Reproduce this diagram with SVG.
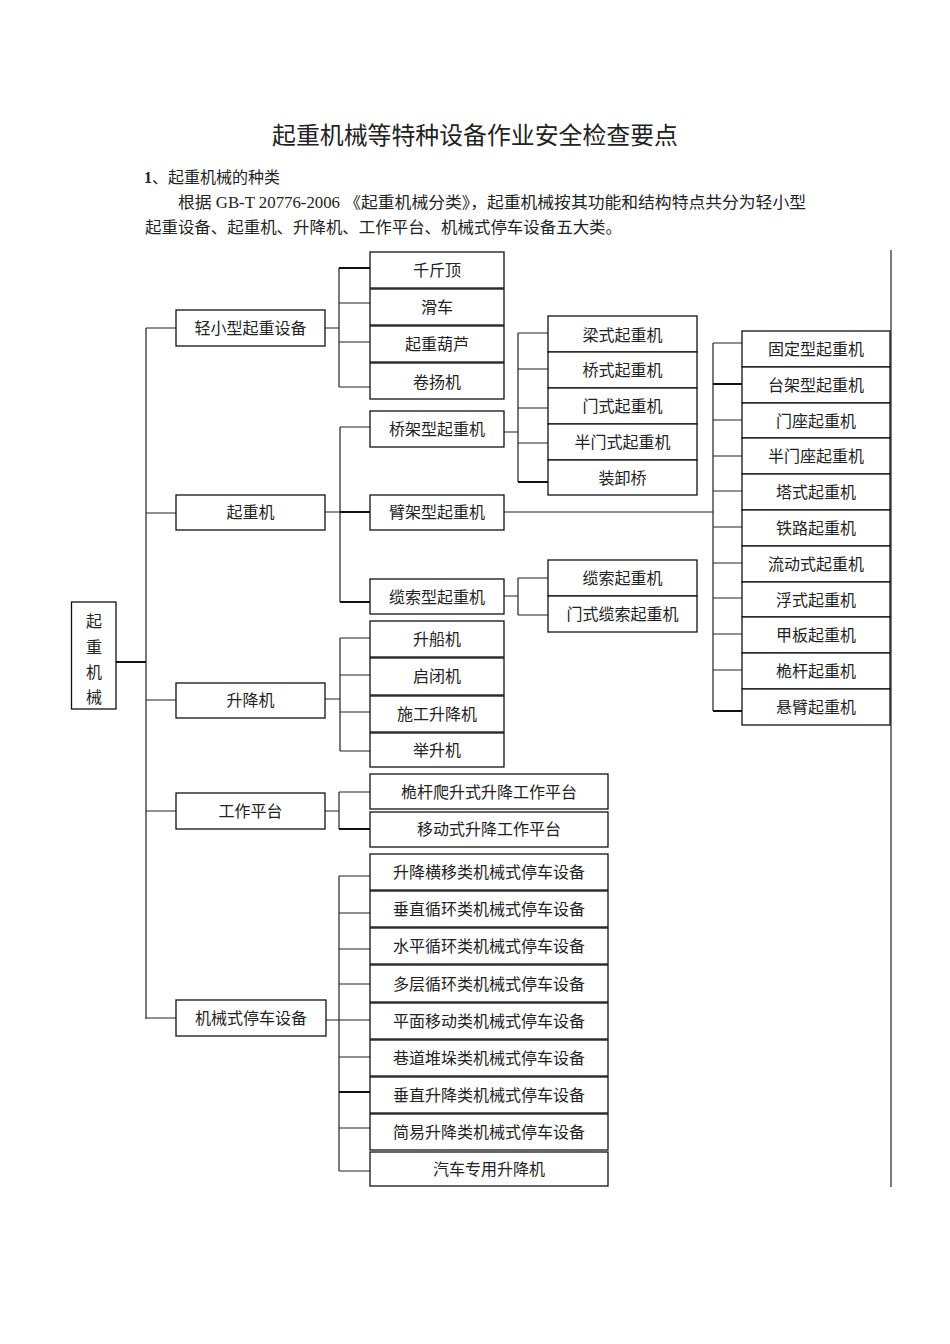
<svg xmlns="http://www.w3.org/2000/svg" width="950" height="1344" viewBox="0 0 950 1344">
<style>
.bx{fill:#fff;stroke:#111;stroke-width:1.3}
.ln{fill:none;stroke:#222;stroke-width:1.2}
.tk{fill:none;stroke:#111;stroke-width:2}
.t{font-family:"Liberation Serif","Noto Sans CJK SC",serif;font-size:16px;fill:#222;text-anchor:middle}
.p{font-family:"Liberation Serif","Noto Sans CJK SC",serif;font-size:16px;fill:#222}
</style>
<rect width="950" height="1344" fill="#fff"/>
<g id="header">
<text x="475" y="144" class="t" style="font-size:24px" textLength="406" lengthAdjust="spacingAndGlyphs">起重机械等特种设备作业安全检查要点</text>
<text x="144" y="183" class="p"><tspan font-weight="bold">1</tspan>、起重机械的种类</text>
<text x="178" y="208" class="p" textLength="628" lengthAdjust="spacingAndGlyphs">根据 GB-T 20776-2006 《起重机械分类》，起重机械按其功能和结构特点共分为轻小型</text>
<text x="145" y="233" class="p" textLength="477" lengthAdjust="spacingAndGlyphs">起重设备、起重机、升降机、工作平台、机械式停车设备五大类。</text>
</g>
<g id="connectors">
<line class="ln" x1="891" y1="250" x2="891" y2="1187"/>
<line class="tk" x1="116" y1="662" x2="146" y2="662"/>
<path class="ln" d="M146 328V1019M146 328H176M146 513H176M146 700H176M146 811H176M146 1018H176"/>
<path class="ln" d="M325 328H339M339 268V387M339 268H370M339 303H370M339 342H370M339 387H370"/>
<line class="tk" x1="339" y1="268" x2="370" y2="268"/>
<path class="ln" d="M325 512H340M340 427V602M340 427H370M340 602H370"/>
<line class="tk" x1="340" y1="512" x2="370" y2="512"/>
<line class="tk" x1="340" y1="602" x2="370" y2="602"/>
<path class="ln" d="M504 432H518M518 333V482M518 333H548M518 369H548M518 408H548M518 443H548"/>
<line class="tk" x1="518" y1="482" x2="548" y2="482"/>
<path class="ln" d="M504 512H713M713 343V711M713 343H742M713 420H742M713 456H742M713 491H742M713 527H742M713 563H742M713 598H742M713 634H742M713 670H742"/>
<line class="tk" x1="713" y1="384" x2="742" y2="384"/>
<line class="tk" x1="713" y1="711" x2="742" y2="711"/>
<path class="ln" d="M504 596H518M518 578V615M518 578H548M518 615H548"/>
<path class="ln" d="M325 699H340M340 638V751M340 638H370M340 675H370M340 712H370M340 751H370"/>
<path class="ln" d="M325 811H339M339 792V829M339 792H370"/>
<line class="tk" x1="339" y1="829" x2="370" y2="829"/>
<path class="ln" d="M326 1020H339M339 876V1171M339 876H370M339 913H370M339 949H370M339 984H370M339 1020H370M339 1057H370M339 1128H370M339 1171H370"/>
<line class="tk" x1="339" y1="1092" x2="370" y2="1092"/>
</g>
<g id="root"><rect class="bx" x="71.5" y="602" width="44.5" height="107"/>
<text class="t" x="94" y="627">起</text><text class="t" x="94" y="653">重</text><text class="t" x="94" y="678">机</text><text class="t" x="94" y="703">械</text></g>
<g id="n-light"><rect class="bx" x="176" y="310" width="149" height="36"/><text class="t" x="250.5" y="334">轻小型起重设备</text></g>
<g id="n-crane"><rect class="bx" x="176" y="495" width="149" height="35"/><text class="t" x="250.5" y="518">起重机</text></g>
<g id="n-lift"><rect class="bx" x="176" y="683" width="149" height="35"/><text class="t" x="250.5" y="706">升降机</text></g>
<g id="n-platform"><rect class="bx" x="176" y="793" width="149" height="36"/><text class="t" x="250.5" y="817">工作平台</text></g>
<g id="n-parking"><rect class="bx" x="176" y="1000" width="150" height="36"/><text class="t" x="251" y="1024">机械式停车设备</text></g>
<g id="n-jack"><rect class="bx" x="370" y="252" width="134" height="36"/><text class="t" x="437" y="276">千斤顶</text></g>
<g id="n-pulley"><rect class="bx" x="370" y="289" width="134" height="36"/><text class="t" x="437" y="313">滑车</text></g>
<g id="n-hoist"><rect class="bx" x="370" y="326" width="134" height="36"/><text class="t" x="437" y="350">起重葫芦</text></g>
<g id="n-winch"><rect class="bx" x="370" y="363" width="134" height="36"/><text class="t" x="437" y="388">卷扬机</text></g>
<g id="n-bridge"><rect class="bx" x="370" y="411" width="134" height="36"/><text class="t" x="437" y="435">桥架型起重机</text></g>
<g id="n-jib"><rect class="bx" x="370" y="495" width="134" height="35"/><text class="t" x="437" y="518">臂架型起重机</text></g>
<g id="n-cable"><rect class="bx" x="370" y="579" width="134" height="35"/><text class="t" x="437" y="603">缆索型起重机</text></g>
<g id="n-b1"><rect class="bx" x="548" y="316" width="149" height="36"/><text class="t" x="622.5" y="341">梁式起重机</text></g>
<g id="n-b2"><rect class="bx" x="548" y="352" width="149" height="36"/><text class="t" x="622.5" y="376">桥式起重机</text></g>
<g id="n-b3"><rect class="bx" x="548" y="388" width="149" height="36"/><text class="t" x="622.5" y="412">门式起重机</text></g>
<g id="n-b4"><rect class="bx" x="548" y="424" width="149" height="36"/><text class="t" x="622.5" y="448">半门式起重机</text></g>
<g id="n-b5"><rect class="bx" x="548" y="460" width="149" height="35"/><text class="t" x="622.5" y="484">装卸桥</text></g>
<g id="n-j1"><rect class="bx" x="742" y="331" width="148" height="36"/><text class="t" x="816" y="355">固定型起重机</text></g>
<g id="n-j2"><rect class="bx" x="742" y="367" width="148" height="36"/><text class="t" x="816" y="391">台架型起重机</text></g>
<g id="n-j3"><rect class="bx" x="742" y="403" width="148" height="35"/><text class="t" x="816" y="427">门座起重机</text></g>
<g id="n-j4"><rect class="bx" x="742" y="438" width="148" height="36"/><text class="t" x="816" y="462">半门座起重机</text></g>
<g id="n-j5"><rect class="bx" x="742" y="474" width="148" height="36"/><text class="t" x="816" y="498">塔式起重机</text></g>
<g id="n-j6"><rect class="bx" x="742" y="510" width="148" height="36"/><text class="t" x="816" y="534">铁路起重机</text></g>
<g id="n-j7"><rect class="bx" x="742" y="546" width="148" height="36"/><text class="t" x="816" y="570">流动式起重机</text></g>
<g id="n-j8"><rect class="bx" x="742" y="582" width="148" height="35"/><text class="t" x="816" y="606">浮式起重机</text></g>
<g id="n-j9"><rect class="bx" x="742" y="617" width="148" height="36"/><text class="t" x="816" y="641">甲板起重机</text></g>
<g id="n-j10"><rect class="bx" x="742" y="653" width="148" height="36"/><text class="t" x="816" y="677">桅杆起重机</text></g>
<g id="n-j11"><rect class="bx" x="742" y="689" width="148" height="36"/><text class="t" x="816" y="713">悬臂起重机</text></g>
<g id="n-c1"><rect class="bx" x="548" y="560" width="149" height="36"/><text class="t" x="622.5" y="584">缆索起重机</text></g>
<g id="n-c2"><rect class="bx" x="548" y="596" width="149" height="36"/><text class="t" x="622.5" y="620">门式缆索起重机</text></g>
<g id="n-l1"><rect class="bx" x="370" y="621" width="134" height="36"/><text class="t" x="437" y="645">升船机</text></g>
<g id="n-l2"><rect class="bx" x="370" y="658" width="134" height="37"/><text class="t" x="437" y="682">启闭机</text></g>
<g id="n-l3"><rect class="bx" x="370" y="696" width="134" height="36"/><text class="t" x="437" y="720">施工升降机</text></g>
<g id="n-l4"><rect class="bx" x="370" y="733" width="134" height="34"/><text class="t" x="437" y="756">举升机</text></g>
<g id="n-p1"><rect class="bx" x="370" y="774" width="238" height="35"/><text class="t" x="489" y="798">桅杆爬升式升降工作平台</text></g>
<g id="n-p2"><rect class="bx" x="370" y="812" width="238" height="35"/><text class="t" x="489" y="835">移动式升降工作平台</text></g>
<g id="n-k1"><rect class="bx" x="370" y="854" width="238" height="36"/><text class="t" x="489" y="878">升降横移类机械式停车设备</text></g>
<g id="n-k2"><rect class="bx" x="370" y="891" width="238" height="36"/><text class="t" x="489" y="915">垂直循环类机械式停车设备</text></g>
<g id="n-k3"><rect class="bx" x="370" y="928" width="238" height="36"/><text class="t" x="489" y="952">水平循环类机械式停车设备</text></g>
<g id="n-k4"><rect class="bx" x="370" y="965" width="238" height="37"/><text class="t" x="489" y="990">多层循环类机械式停车设备</text></g>
<g id="n-k5"><rect class="bx" x="370" y="1003" width="238" height="36"/><text class="t" x="489" y="1027">平面移动类机械式停车设备</text></g>
<g id="n-k6"><rect class="bx" x="370" y="1040" width="238" height="36"/><text class="t" x="489" y="1064">巷道堆垛类机械式停车设备</text></g>
<g id="n-k7"><rect class="bx" x="370" y="1077" width="238" height="36"/><text class="t" x="489" y="1101">垂直升降类机械式停车设备</text></g>
<g id="n-k8"><rect class="bx" x="370" y="1114" width="238" height="36"/><text class="t" x="489" y="1138">简易升降类机械式停车设备</text></g>
<g id="n-k9"><rect class="bx" x="370" y="1152" width="238" height="34"/><text class="t" x="489" y="1175">汽车专用升降机</text></g>
</svg>
